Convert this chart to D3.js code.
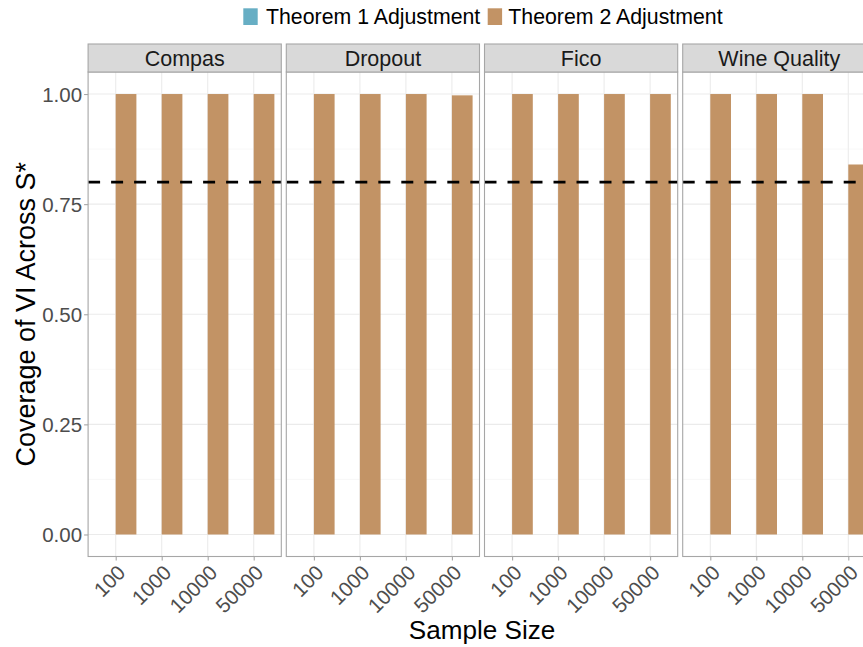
<!DOCTYPE html>
<html>
<head>
<meta charset="utf-8">
<script src="https://cdn.jsdelivr.net/npm/d3@7"></script>
<style>
  html, body { margin: 0; padding: 0; background: #ffffff; }
  svg { display: block; font-family: "Liberation Sans", Arial, Helvetica, sans-serif; }
</style>
</head>
<body>
<svg id="chart" width="863" height="647"></svg>
<script>
// Facets, x categories and the two adjustment series
const datasets = ["Compas", "Dropout", "Fico", "Wine Quality"];
const sampleSizes = ["100", "1000", "10000", "50000"];
const seriesNames = ["Theorem 1 Adjustment", "Theorem 2 Adjustment"];
const seriesColors = ["#67AEC4", "#C29365"];

// Coverage per dataset (rows) and sample size (columns)
const theorem1Coverage = [
  [0, 0, 0, 0],
  [0, 0, 0, 0],
  [0, 0, 0, 0],
  [0, 0, 0, 0]
];
const theorem2Coverage = [
  [1.00, 1.00, 1.00, 1.00],
  [1.00, 1.00, 1.00, 0.997],
  [1.00, 1.00, 1.00, 1.00],
  [1.00, 1.00, 1.00, 0.84]
];
const targetCoverage = 0.8;
const yTicks = [0, 0.25, 0.5, 0.75, 1.0];
const yMinor = [0.125, 0.375, 0.625, 0.875];

const svg = d3.select("#chart");

// Panel geometry
const panelTop = 72, panelBottom = 556.5;
const stripTop = 44;
const panelLeft0 = 88.1, panelWidth = 193.2, panelStep = 198.2;

const y = d3.scaleLinear().domain([-0.05, 1.05]).range([panelBottom, panelTop]);
const x = d3.scalePoint().domain(sampleSizes).range([0, panelWidth]).padding(0.6);
const unit = x.step();
const dodge = d3.scaleBand().domain(seriesNames).range([-0.45 * unit, 0.45 * unit]).padding(0);

const tickColor = "#4D4D4D";
const borderColor = "#A6A6A6";

const defs = svg.append("defs");

datasets.forEach((name, i) => {
  const left = panelLeft0 + i * panelStep;
  const g = svg.append("g").attr("transform", `translate(${left},0)`);

  defs.append("clipPath").attr("id", "clip" + i)
    .append("rect").attr("x", 0).attr("y", panelTop)
    .attr("width", panelWidth).attr("height", panelBottom - panelTop);

  // panel background and grid
  g.append("rect").attr("x", 0).attr("y", panelTop)
    .attr("width", panelWidth).attr("height", panelBottom - panelTop)
    .attr("fill", "#ffffff");

  g.selectAll("line.minor").data(yMinor).enter().append("line")
    .attr("x1", 0).attr("x2", panelWidth)
    .attr("y1", d => y(d)).attr("y2", d => y(d))
    .attr("stroke", "#F3F3F3").attr("stroke-width", 0.6);

  g.selectAll("line.majorY").data(yTicks).enter().append("line")
    .attr("x1", 0).attr("x2", panelWidth)
    .attr("y1", d => y(d)).attr("y2", d => y(d))
    .attr("stroke", "#EBEBEB").attr("stroke-width", 1.1);

  g.selectAll("line.majorX").data(sampleSizes).enter().append("line")
    .attr("x1", d => x(d)).attr("x2", d => x(d))
    .attr("y1", panelTop).attr("y2", panelBottom)
    .attr("stroke", "#EBEBEB").attr("stroke-width", 1.1);

  // dodged bars
  const rows = [];
  sampleSizes.forEach((s, j) => {
    rows.push({ size: s, series: seriesNames[0], value: theorem1Coverage[i][j], color: seriesColors[0] });
    rows.push({ size: s, series: seriesNames[1], value: theorem2Coverage[i][j], color: seriesColors[1] });
  });

  const bars = g.append("g").attr("clip-path", `url(#clip${i})`);
  bars.selectAll("rect").data(rows).enter().append("rect")
    .attr("x", d => x(d.size) + dodge(d.series))
    .attr("width", dodge.bandwidth())
    .attr("y", d => y(d.value))
    .attr("height", d => y(0) - y(d.value))
    .attr("fill", d => d.color);

  // reference line
  bars.append("line")
    .attr("x1", 0).attr("x2", panelWidth + 20)
    .attr("y1", y(targetCoverage)).attr("y2", y(targetCoverage))
    .attr("stroke", "#000").attr("stroke-width", 2.8)
    .attr("stroke-dasharray", "12 11");

  // panel border
  g.append("rect").attr("x", 0).attr("y", panelTop)
    .attr("width", panelWidth).attr("height", panelBottom - panelTop)
    .attr("fill", "none").attr("stroke", borderColor).attr("stroke-width", 1.1);

  // strip
  g.append("rect").attr("x", 0).attr("y", stripTop)
    .attr("width", panelWidth).attr("height", panelTop - stripTop)
    .attr("fill", "#D9D9D9").attr("stroke", borderColor).attr("stroke-width", 1.1);
  g.append("text")
    .attr("x", panelWidth / 2).attr("y", (stripTop + panelTop) / 2)
    .attr("dy", "0.36em")
    .attr("text-anchor", "middle")
    .attr("font-size", 21.5)
    .attr("fill", "#1A1A1A")
    .text(name);

  // x axis
  const xAxis = g.append("g").attr("transform", `translate(0,${panelBottom})`)
    .call(d3.axisBottom(x).tickSize(4).tickPadding(0).tickFormat(d => d));
  xAxis.select(".domain").remove();
  xAxis.selectAll(".tick line").attr("stroke", borderColor).attr("stroke-width", 1.1);
  xAxis.selectAll(".tick text")
    .attr("font-size", 20.5)
    .attr("fill", tickColor)
    .attr("text-anchor", "end")
    .attr("dy", "0.72em")
    .attr("y", 0)
    .attr("transform", "translate(0,7) rotate(-45)");

  // y axis only on the first panel
  if (i === 0) {
    const yAxis = g.append("g")
      .call(d3.axisLeft(y).tickValues(yTicks).tickSize(4).tickPadding(2).tickFormat(d3.format(".2f")));
    yAxis.select(".domain").remove();
    yAxis.selectAll(".tick line").attr("stroke", borderColor).attr("stroke-width", 1.1);
    yAxis.selectAll(".tick text")
      .attr("font-size", 20.5)
      .attr("fill", tickColor)
      .attr("dy", "0.36em");
  }
});

// axis titles
svg.append("text")
  .attr("transform", `translate(35,${(panelTop + panelBottom) / 2}) rotate(-90)`)
  .attr("text-anchor", "middle")
  .attr("font-size", 27)
  .attr("fill", "#000")
  .text("Coverage of VI Across S*");

svg.append("text")
  .attr("x", panelLeft0 + (3 * panelStep + panelWidth) / 2)
  .attr("y", 639)
  .attr("text-anchor", "middle")
  .attr("font-size", 26.1)
  .attr("fill", "#000")
  .text("Sample Size");

// legend
const legend = svg.append("g");
const legendItems = [
  { name: seriesNames[0], color: seriesColors[0], keyX: 243.3, textX: 266 },
  { name: seriesNames[1], color: seriesColors[1], keyX: 487.7, textX: 508.3 }
];
legendItems.forEach(item => {
  legend.append("rect")
    .attr("x", item.keyX).attr("y", 8.3)
    .attr("width", 14.4).attr("height", 16.7)
    .attr("fill", item.color);
  legend.append("text")
    .attr("x", item.textX).attr("y", 16.7)
    .attr("dy", "0.36em")
    .attr("font-size", 21.3)
    .attr("fill", "#000")
    .text(item.name);
});
</script>
</body>
</html>
